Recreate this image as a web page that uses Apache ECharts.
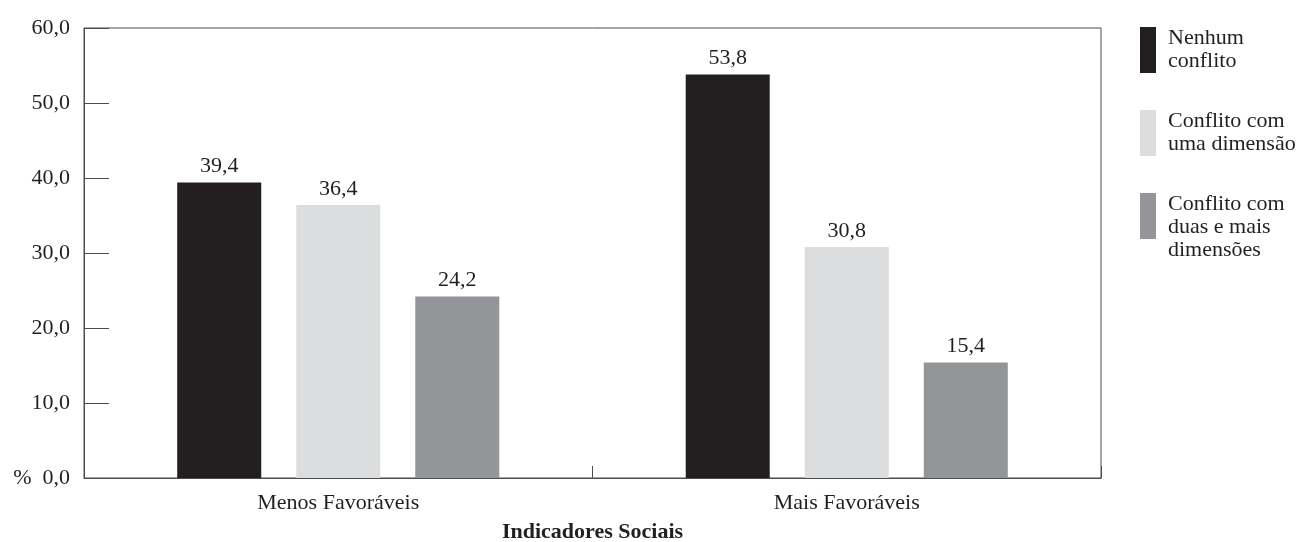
<!DOCTYPE html>
<html>
<head>
<meta charset="utf-8">
<script src="https://cdn.jsdelivr.net/npm/echarts@6/dist/echarts.min.js"></script>
<style>
html,body{margin:0;padding:0;background:#fff;}
#chart{width:1314px;height:542px;}
</style>
</head>
<body>
<div id="chart"></div>
<script>
const categories = ['Menos Favoráveis', 'Mais Favoráveis'];
const seriesNames = ['Nenhum conflito', 'Conflito com uma dimensão', 'Conflito com duas e mais dimensões'];
const nenhumConflito = [39.4, 53.8];
const conflitoUma = [36.4, 30.8];
const conflitoDuas = [24.2, 15.4];
const legendLabels = ['Nenhum\nconflito', 'Conflito com\numa dimensão', '\nConflito com\nduas e mais\ndimensões'];
const colors = ['#231f20', '#dcdddf', '#939598'];
const axisTitle = 'Indicadores Sociais';

const FONT = '"Liberation Serif", "Times New Roman", serif';
const TXT = '#231f20';
const LINE = '#4d4d4f';

const fmt = v => v.toFixed(1).replace('.', ',');

function makeSeries(name, data, color) {
  return {
    name: name,
    type: 'bar',
    data: data,
    barWidth: 84,
    barGap: '41.7%',
    itemStyle: { color: color },
    label: {
      show: true,
      position: 'top',
      distance: 5,
      color: TXT,
      fontFamily: FONT,
      fontSize: 22,
      formatter: p => fmt(p.value)
    },
    emphasis: { disabled: true }
  };
}

function makeLegend(i, top) {
  return {
    data: [seriesNames[i]],
    left: 1140,
    top: top,
    padding: 0,
    orient: 'vertical',
    icon: 'rect',
    itemWidth: 16,
    itemHeight: 46,
    selectedMode: false,
    formatter: () => legendLabels[i],
    textStyle: {
      color: TXT,
      fontFamily: FONT,
      fontSize: 22,
      lineHeight: 23,
      padding: [0, 0, 0, 7]
    }
  };
}

const chart = echarts.init(document.getElementById('chart'), null, { renderer: 'canvas' });
chart.setOption({
  animation: false,
  backgroundColor: '#fff',
  grid: {
    left: 84, top: 28, right: 213, bottom: 64,
    outerBoundsMode: 'none',
    containLabel: false,
    show: true, borderColor: LINE, borderWidth: 1, backgroundColor: 'transparent'
  },
  legend: [makeLegend(0, 27), makeLegend(1, 110), makeLegend(2, 170)],
  xAxis: {
    type: 'category',
    data: categories,
    axisLine: { show: true, lineStyle: { color: LINE, width: 1 } },
    axisTick: { show: true, inside: true, length: 12, lineStyle: { color: LINE } },
    axisLabel: { color: TXT, fontFamily: FONT, fontSize: 22, margin: 14 },
    name: axisTitle,
    nameLocation: 'middle',
    nameGap: 43,
    nameTextStyle: { color: TXT, fontFamily: FONT, fontSize: 22, fontWeight: 'bold' }
  },
  yAxis: {
    type: 'value',
    min: 0, max: 60, interval: 10,
    splitLine: { show: false },
    axisLine: { show: true, lineStyle: { color: LINE, width: 1 } },
    axisTick: { show: true, inside: true, length: 25, lineStyle: { color: LINE } },
    axisLabel: {
      color: TXT, fontFamily: FONT, fontSize: 22, margin: 14,
      padding: [0, 0, 16, 0],
      formatter: v => v === 0 ? '%  0,0' : fmt(v)
    }
  },
  series: [
    makeSeries(seriesNames[0], nenhumConflito, colors[0]),
    makeSeries(seriesNames[1], conflitoUma, colors[1]),
    makeSeries(seriesNames[2], conflitoDuas, colors[2])
  ]
});
</script>
</body>
</html>
